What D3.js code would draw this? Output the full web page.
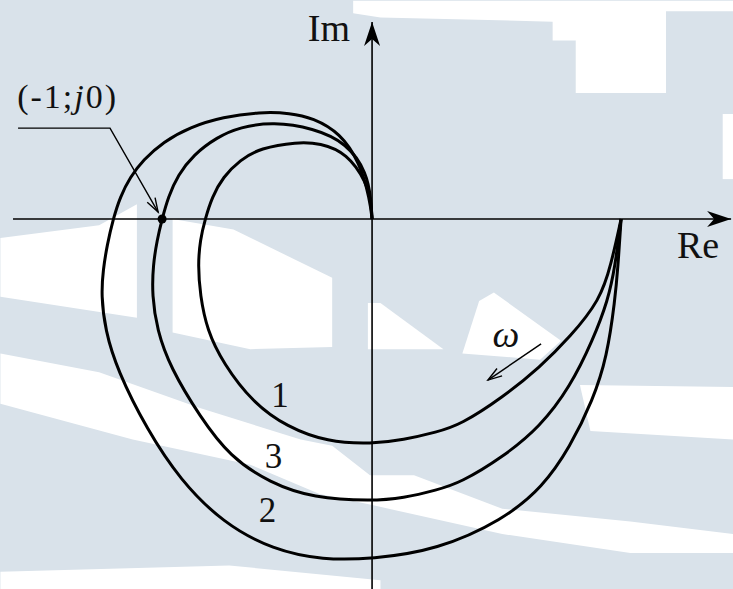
<!DOCTYPE html>
<html lang="ru">
<head>
  <meta charset="UTF-8">
  <title>Годограф Найквиста</title>
  <style>
    body { margin: 0; background: #fff; }
    svg { display: block; }
    .curve { fill: none; stroke: #000; stroke-width: 3; stroke-linejoin: round; }
    .axis-line { stroke: #000; stroke-width: 1.6; }
    .lbl { font-family: "Liberation Serif", "Times New Roman", Times, serif; fill: #111; }
  </style>
</head>
<body>
  <div id="chart"></div>
  <script src="https://d3js.org/d3.v7.min.js"></script>
  <script>
    // Hodograph points [Re, Im], from the start on +Re axis to the origin
    const curve1 = [
      [1.186, 0], [1.138, -0.219], [1.086, -0.386], [0.943, -0.562], [0.800, -0.705],
      [0.624, -0.848], [0.419, -0.981], [0.310, -1.014], [0.148, -1.052], [0, -1.071],
      [-0.214, -1.062], [-0.405, -0.990], [-0.567, -0.876], [-0.710, -0.686], [-0.786, -0.529],
      [-0.819, -0.362], [-0.829, -0.219], [-0.819, -0.100], [-0.795, 0], [-0.762, 0.105],
      [-0.710, 0.200], [-0.629, 0.281], [-0.533, 0.338], [-0.357, 0.367], [-0.248, 0.362],
      [-0.119, 0.314], [-0.024, 0.171], [-0.005, 0.076], [0, 0]
    ];
    const curve2 = [
      [1.186, 0], [1.171, -0.229], [1.157, -0.386], [1.119, -0.657], [1.052, -0.862],
      [0.943, -1.086], [0.814, -1.276], [0.624, -1.433], [0.310, -1.576], [0, -1.619],
      [-0.233, -1.624], [-0.471, -1.576], [-0.710, -1.448], [-0.914, -1.243], [-1.071, -1.005],
      [-1.214, -0.719], [-1.271, -0.529], [-1.290, -0.362], [-1.281, -0.243], [-1.262, -0.124],
      [-1.233, 0], [-1.200, 0.105], [-1.152, 0.200], [-1.090, 0.281], [-0.995, 0.367],
      [-0.867, 0.438], [-0.710, 0.486], [-0.533, 0.510], [-0.390, 0.505], [-0.281, 0.481],
      [-0.152, 0.410], [-0.057, 0.267], [-0.010, 0.090], [0, 0]
    ];
    const curve3 = [
      [1.186, 0], [1.157, -0.229], [1.124, -0.386], [1.052, -0.576], [0.943, -0.800],
      [0.800, -0.990], [0.624, -1.133], [0.419, -1.257], [0.310, -1.290], [0.148, -1.329],
      [0, -1.343], [-0.281, -1.329], [-0.486, -1.257], [-0.676, -1.133], [-0.819, -0.943],
      [-0.962, -0.705], [-1.024, -0.529], [-1.048, -0.362], [-1.043, -0.219], [-1.024, -0.100],
      [-1.000, 0], [-0.971, 0.105], [-0.924, 0.210], [-0.852, 0.305], [-0.738, 0.390],
      [-0.629, 0.438], [-0.471, 0.462], [-0.281, 0.433], [-0.119, 0.362], [-0.024, 0.219],
      [-0.005, 0.090], [0, 0]
    ];
    const curveNames = ["1", "2", "3"];
    const criticalPoint = [-1, 0];

    // layout: where the curve numbers sit (Re, Im of the baseline centre)
    const nameAt = { "1": [-0.438, -0.895], "2": [-0.498, -1.443], "3": [-0.469, -1.186] };

    // light watermark shapes of the scanned page, in plot units
    const paper = [
      [[-0.09,1.04],[1.72,1.04],[1.72,0.99],[1.40,0.99],[1.40,0.60],[0.97,0.60],[0.97,0.85],[0.86,0.85],[0.86,0.94],[0.04,0.96],[-0.09,0.98]],
      [[1.67,0.50],[1.72,0.50],[1.72,0.19],[1.67,0.19]],
      [[-1.77,-0.09],[-1.30,-0.03],[-1.12,0.07],[-1.12,-0.47],[-1.77,-0.37]],
      [[-0.95,0.00],[-0.66,-0.05],[-0.19,-0.28],[-0.19,-0.61],[-0.58,-0.62],[-0.95,-0.54]],
      [[-0.02,-0.40],[0.04,-0.40],[0.34,-0.62],[-0.02,-0.62]],
      [[0.43,-0.64],[0.51,-0.39],[0.58,-0.35],[0.90,-0.58],[0.80,-0.67]],
      [[0.99,-0.79],[1.72,-0.80],[1.72,-1.05],[1.04,-1.01]],
      [[-1.77,-0.64],[-1.30,-0.73],[-0.82,-0.90],[-0.34,-1.05],[-0.19,-1.08],[-0.01,-1.22],[0.20,-1.22],
       [0.62,-1.38],[1.23,-1.44],[1.72,-1.50],[1.72,-1.59],[1.23,-1.59],[0.62,-1.50],[-0.01,-1.36],
       [-0.25,-1.31],[-0.58,-1.17],[-1.14,-1.05],[-1.77,-0.88]],
      [[-1.77,-1.68],[-0.68,-1.65],[0.04,-1.72],[0.04,-1.77],[-1.77,-1.77]]
    ];

    const width = 733, height = 589;

    const svg = d3.select("#chart").append("svg")
      .attr("width", width)
      .attr("height", height);

    const x = d3.scaleLinear().domain([-1.772, 1.719]).range([0, width]);
    const y = d3.scaleLinear().domain([-1.762, 1.043]).range([height, 0]);

    // background
    svg.append("rect").attr("width", width).attr("height", height).attr("fill", "#d9e2ea");
    const poly = d3.line().x(d => x(d[0])).y(d => y(d[1]));
    svg.append("g").selectAll("path")
      .data(paper)
      .join("path")
      .attr("d", d => poly(d) + "Z")
      .attr("fill", "#ffffff");

    // arrow markers
    const defs = svg.append("defs");
    defs.append("marker")
      .attr("id", "axisArrow")
      .attr("markerUnits", "userSpaceOnUse")
      .attr("viewBox", "-26 -9 28 18")
      .attr("markerWidth", 28).attr("markerHeight", 18)
      .attr("refX", 0).attr("refY", 0)
      .attr("orient", "auto")
      .append("path")
      .attr("d", "M0,0 L-24,-8 L-17,0 L-24,8 Z")
      .attr("fill", "#000");
    defs.append("marker")
      .attr("id", "smallArrow")
      .attr("markerUnits", "userSpaceOnUse")
      .attr("viewBox", "-16 -6 18 12")
      .attr("markerWidth", 18).attr("markerHeight", 12)
      .attr("refX", 0).attr("refY", 0)
      .attr("orient", "auto")
      .append("path")
      .attr("d", "M-14,-4.5 L0,0 L-14,4.5")
      .attr("fill", "none")
      .attr("stroke", "#000")
      .attr("stroke-width", 1.4);

    // axes
    svg.append("line").attr("class", "axis-line")
      .attr("x1", x(-1.71)).attr("y1", y(0))
      .attr("x2", x(1.71)).attr("y2", y(0))
      .attr("marker-end", "url(#axisArrow)");
    svg.append("line").attr("class", "axis-line")
      .attr("x1", x(0)).attr("y1", y(-1.762))
      .attr("x2", x(0)).attr("y2", y(0.938))
      .attr("marker-end", "url(#axisArrow)");

    svg.append("text").attr("class", "lbl")
      .attr("x", x(-0.105)).attr("y", y(0.848))
      .attr("text-anchor", "end")
      .attr("font-size", 38)
      .text("Im");
    svg.append("text").attr("class", "lbl")
      .attr("x", x(1.452)).attr("y", y(-0.186))
      .attr("font-size", 38)
      .text("Re");

    // curves (B-spline smooths the reading noise of the hand-read points)
    const line = d3.line()
      .x(d => x(d[0]))
      .y(d => y(d[1]))
      .curve(d3.curveBasis);

    const curves = { "1": curve1, "2": curve2, "3": curve3 };
    svg.append("g").selectAll("path")
      .data(curveNames)
      .join("path")
      .attr("class", "curve")
      .attr("d", k => line(curves[k]));

    svg.append("g").selectAll("text")
      .data(curveNames)
      .join("text")
      .attr("class", "lbl")
      .attr("x", k => x(nameAt[k][0]))
      .attr("y", k => y(nameAt[k][1]))
      .attr("text-anchor", "middle")
      .attr("font-size", 35)
      .text(k => k);

    // critical point (-1; j0) with leader
    svg.append("circle")
      .attr("cx", x(criticalPoint[0])).attr("cy", y(criticalPoint[1]))
      .attr("r", 4.5).attr("fill", "#000");

    svg.append("path")
      .attr("d", poly([[-1.686, 0.433], [-1.248, 0.433], [-1.019, 0.033]]))
      .attr("fill", "none").attr("stroke", "#000").attr("stroke-width", 1.4)
      .attr("marker-end", "url(#smallArrow)");

    const cp = svg.append("text").attr("class", "lbl")
      .attr("x", x(-1.690)).attr("y", y(0.529))
      .attr("font-size", 34)
      .attr("letter-spacing", 2);
    cp.append("tspan").text("(-1;");
    cp.append("tspan").attr("font-style", "italic").text("j");
    cp.append("tspan").text("0)");

    // frequency direction
    svg.append("text").attr("class", "lbl")
      .attr("x", x(0.638)).attr("y", y(-0.610))
      .attr("text-anchor", "middle")
      .attr("font-size", 38)
      .attr("font-style", "italic")
      .text("ω");
    svg.append("line")
      .attr("x1", x(0.805)).attr("y1", y(-0.595))
      .attr("x2", x(0.552)).attr("y2", y(-0.767))
      .attr("stroke", "#000").attr("stroke-width", 1.4)
      .attr("marker-end", "url(#smallArrow)");
  </script>
</body>
</html>
